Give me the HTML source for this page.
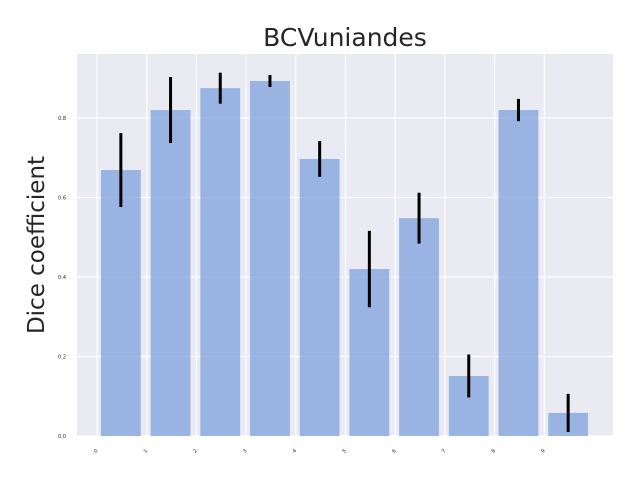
<!DOCTYPE html>
<html><head><meta charset="utf-8"><style>
body{margin:0;background:#fff;}
svg text{font-family:"DejaVu Sans","Liberation Sans",sans-serif;}
</style></head><body>
<svg id="chart" width="640" height="480" viewBox="0 0 640 480" xmlns="http://www.w3.org/2000/svg">
<rect x="0" y="0" width="640" height="480" fill="#fff"/>
<rect x="77" y="54" width="536" height="382" fill="#eaeaf2"/>
<g id="grid"></g><g id="bars"></g><g id="errs"></g><g id="ticks"></g>
<text x="345" y="46" font-size="25" text-anchor="middle" fill="#262626">BCVuniandes</text>
<text transform="translate(44,245) rotate(-90)" font-size="23" text-anchor="middle" fill="#262626">Dice coefficient</text>
</svg>
<script>
const categories=["0","1","2","3","4","5","6","7","8","9"];
const values=[0.669,0.820,0.875,0.893,0.697,0.420,0.548,0.151,0.820,0.058];
const errors=[0.093,0.083,0.039,0.015,0.045,0.096,0.064,0.054,0.028,0.048];
const yTicks=[0,0.2,0.4,0.6,0.8];
const yTickLabels=["0.0","0.2","0.4","0.6","0.8"];
const NS="http://www.w3.org/2000/svg";
const x=v=>97+(v)*49.7;
const y=v=>436-v*397.5;
function mk(tag,attrs,parent){const e=document.createElementNS(NS,tag);for(const k in attrs)e.setAttribute(k,attrs[k]);document.getElementById(parent).appendChild(e);return e;}
yTicks.forEach((t,i)=>{
 const g=mk('line',{x1:77,x2:613,y1:y(t),y2:y(t),stroke:'#fff','stroke-width':1.2},'grid');
 
 
 const tx=mk('text',{x:66,y:y(t)+2,'font-size':5,'text-anchor':'end',fill:'#262626'},'ticks');
 tx.textContent=yTickLabels[i];
 
 
});
categories.forEach((c,i)=>{
 const g=mk('line',{x1:x(i),x2:x(i),y1:54,y2:436,stroke:'#fff','stroke-width':1.2},'grid');
 
 
 const cx=x(i+0.48);
 const b=mk('rect',{x:cx-19.9,y:y(values[i]),width:39.8,height:y(0)-y(values[i]),fill:'#7da0dc','fill-opacity':0.75},'bars');
 
 
 const e=mk('line',{x1:cx,x2:cx,y1:y(values[i]-errors[i]),y2:y(values[i]+errors[i]),stroke:'#000','stroke-width':3},'errs');
 
 
 const tx=mk('text',{transform:`translate(${x(i)+1},${451}) rotate(-45)`,'font-size':5,'text-anchor':'end',fill:'#262626'},'ticks');
 tx.textContent=c;
 
 
});
</script>
</body></html>
